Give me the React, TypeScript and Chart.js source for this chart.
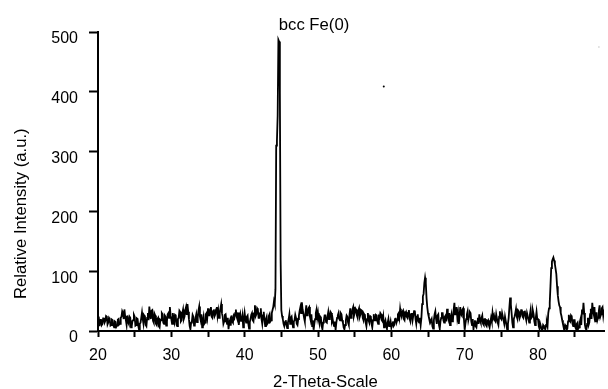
import React, { useEffect, useRef } from 'react';
import { Chart, registerables } from 'chart.js';

Chart.register(...registerables);

// XRD scan: start angle and step of the 2-theta sampling grid (degrees)
const SCAN_START = 20.0;
const SCAN_STEP = 0.1;

// Intensity (a.u.), one value per 0.1 deg step, 20.0 .. 89.0
const intensity: number[] = [
  // 20.0 - 21.9
  15, 24, 8, 18, 20, 10, 12, 21, 22, 14, 17, 25, 24, 11, 14, 22, 20, 9, 10, 19,
  // 22.0 - 23.9
  18, 9, 6, 16, 15, 7, 9, 19, 20, 11, 12, 22, 24, 33, 30, 20, 36, 25, 18, 10,
  // 24.0 - 25.9
  26, 15, 12, 24, 22, 6, 8, 17, 18, 27, 24, 9, 10, 21, 20, 8, 2, 12, 14, 22,
  // 26.0 - 27.9
  31, 20, 12, 26, 24, 10, 8, 22, 30, 18, 41, 28, 20, 34, 35, 17, 14, 29, 26, 12,
  // 28.0 - 29.9
  10, 20, 22, 8, 6, 19, 18, 30, 28, 14, 12, 26, 24, 9, 16, 28, 30, 22, 40, 26,
  // 30.0 - 31.9
  20, 12, 30, 19, 14, 27, 26, 11, 8, 20, 22, 34, 32, 16, 18, 30, 36, 20, 24, 35,
  // 32.0 - 33.9
  40, 27, 45, 32, 20, 8, 3, 14, 16, 27, 24, 9, 10, 22, 28, 15, 22, 34, 41, 24,
  // 34.0 - 35.9
  18, 28, 6, 16, 24, 12, 14, 28, 30, 22, 38, 26, 26, 35, 40, 24, 22, 33, 36, 25,
  // 36.0 - 37.9
  28, 36, 40, 25, 34, 22, 30, 38, 45, 30, 24, 12, 16, 27, 28, 18, 12, 22, 3, 14,
  // 38.0 - 39.9
  18, 9, 26, 16, 14, 25, 22, 30, 36, 24, 20, 31, 10, 22, 28, 17, 18, 26, 6, 18,
  // 40.0 - 41.9
  30, 20, 14, 24, 26, 12, 4, 15, 20, 27, 30, 18, 16, 30, 43, 25, 28, 38, 36, 22,
  // 42.0 - 43.9
  22, 30, 38, 20, 12, 26, 32, 18, 8, 20, 24, 12, 14, 25, 28, 16, 18, 30, 35, 40,
  // 44.0 - 45.9
  50, 45, 70, 310, 318, 360, 487, 484, 400, 120, 35, 25, 20, 12, 8, 15, 18, 10, 5, 14,
  // 46.0 - 47.9
  20, 28, 12, 22, 24, 14, 6, 16, 18, 27, 22, 12, 10, 20, 26, 34, 40, 30, 48, 36,
  // 48.0 - 49.9
  30, 22, 16, 30, 43, 26, 28, 38, 40, 24, 18, 28, 8, 18, 2, 12, 20, 30, 36, 22,
  // 50.0 - 51.9
  30, 18, 12, 24, 22, 8, 3, 14, 18, 26, 26, 15, 14, 25, 32, 20, 24, 32, 30, 16,
  // 52.0 - 53.9
  20, 12, 8, 16, 2, 14, 22, 26, 30, 20, 18, 30, 28, 18, 14, 6, 3, 10, 18, 26,
  // 54.0 - 55.9
  24, 14, 10, 28, 38, 22, 26, 36, 40, 25, 30, 38, 36, 26, 22, 34, 38, 24, 28, 35,
  // 56.0 - 57.9
  34, 22, 18, 28, 26, 14, 8, 20, 30, 18, 14, 25, 24, 12, 6, 18, 28, 20, 18, 27,
  // 58.0 - 59.9
  26, 16, 12, 24, 22, 30, 28, 18, 16, 24, 6, 14, 18, 10, 4, 14, 20, 8, 10, 16,
  // 60.0 - 61.9
  6, 12, 16, 8, 10, 20, 22, 14, 18, 28, 30, 22, 37, 28, 24, 32, 34, 20, 18, 30,
  // 62.0 - 63.9
  32, 24, 22, 30, 35, 20, 16, 28, 30, 18, 26, 33, 34, 20, 12, 24, 28, 16, 14, 22,
  // 64.0 - 65.9
  10, 22, 45, 58, 62, 80, 89, 80, 55, 40, 30, 24, 20, 14, 14, 20, 8, 4, 18, 28,
  // 66.0 - 67.9
  33, 20, 12, 26, 28, 10, 4, 16, 22, 30, 30, 18, 14, 24, 26, 16, 37, 26, 20, 30,
  // 68.0 - 69.9
  10, 22, 28, 16, 18, 36, 47, 28, 30, 40, 22, 30, 12, 24, 40, 28, 26, 36, 38, 20,
  // 70.0 - 71.9
  2, 12, 20, 28, 33, 18, 24, 32, 30, 16, 10, 20, 3, 12, 18, 8, 6, 16, 22, 12,
  // 72.0 - 73.9
  28, 18, 14, 22, 26, 12, 10, 20, 20, 10, 8, 16, 18, 10, 6, 14, 22, 16, 31, 22,
  // 74.0 - 75.9
  26, 18, 16, 28, 28, 14, 10, 24, 33, 22, 20, 30, 30, 18, 12, 24, 24, 10, 2, 12,
  // 76.0 - 77.9
  22, 40, 56, 44, 30, 14, 6, 20, 24, 30, 37, 24, 20, 34, 32, 22, 26, 35, 36, 24,
  // 78.0 - 79.9
  22, 32, 34, 24, 18, 30, 30, 20, 14, 28, 36, 22, 24, 34, 28, 16, 10, 22, 32, 20,
  // 80.0 - 81.9
  20, 8, 4, 12, 12, 3, 2, 10, 8, 4, 3, 10, 14, 8, 30, 38, 47, 75, 105, 116,
  // 82.0 - 83.9
  120, 123, 118, 112, 104, 95, 75, 60, 50, 43, 40, 30, 25, 18, 12, 8, 3, 10, 8, 2,
  // 84.0 - 85.9
  4, 16, 27, 18, 16, 26, 24, 12, 8, 18, 18, 6, 3, 12, 14, 4, 6, 15, 20, 10,
  // 86.0 - 87.9
  36, 28, 47, 30, 10, 4, 2, 12, 22, 10, 14, 28, 37, 20, 47, 34, 28, 40, 16, 30,
  // 88.0 - 89.0
  30, 18, 22, 34, 43, 24, 28, 38, 40, 26, 36,
];

// stray specks visible in the picture
const speckX: number[] = [58.97, 88.3];
const speckY: number[] = [409, 475];
const speckColor: string[] = ['#000000', '#dddddd'];

const X_MIN = 20;
const X_MAX = 89;
const Y_MIN = 0;
const Y_MAX = 500;
const X_TICK_STEP = 5;
const Y_TICK_STEP = 100;

const X_TITLE = '2-Theta-Scale';
const Y_TITLE = 'Relative Intensity (a.u.)';
const PEAK_LABEL = 'bcc Fe(0)';
const PEAK_LABEL_X = 44.65;

const FONT = "'Liberation Sans', Arial, Helvetica, sans-serif";

const textPlugin = {
  id: 'extraText',
  afterDraw(chart: any) {
    const ctx = chart.ctx as CanvasRenderingContext2D;
    const xs = chart.scales.x;
    ctx.save();
    ctx.fillStyle = '#000';
    ctx.font = `16.7px ${FONT}`;
    ctx.textBaseline = 'alphabetic';
    ctx.textAlign = 'left';
    // peak annotation
    ctx.fillText(PEAK_LABEL, xs.getPixelForValue(PEAK_LABEL_X), 30);
    // x title
    ctx.fillText(X_TITLE, 273, 386.5);
    // y title
    ctx.translate(26, 299);
    ctx.rotate(-Math.PI / 2);
    ctx.fillText(Y_TITLE, 0, 0);
    ctx.restore();
  },
};

export default function App() {
  const ref = useRef<HTMLCanvasElement>(null);

  useEffect(() => {
    const points = intensity.map((y, i) => ({
      x: Math.round((SCAN_START + i * SCAN_STEP) * 100) / 100,
      y,
    }));
    const specks = speckX.map((x, i) => ({ x, y: speckY[i] }));

    const chart = new Chart(ref.current as HTMLCanvasElement, {
      type: 'line',
      data: {
        datasets: [
          {
            data: points,
            borderColor: '#000',
            borderWidth: 1.8,
            pointRadius: 0,
            tension: 0,
            fill: false,
          },
          {
            data: specks,
            showLine: false,
            pointRadius: 1,
            pointBorderWidth: 0,
            pointBackgroundColor: speckColor,
            borderColor: speckColor,
          },
        ],
      },
      options: {
        responsive: false,
        animation: false,
        events: [],
        layout: { padding: { top: 32, left: 0, right: 0, bottom: 0 } },
        plugins: {
          legend: { display: false },
          tooltip: { enabled: false },
          title: { display: false },
        },
        scales: {
          x: {
            type: 'linear',
            min: X_MIN,
            max: X_MAX,
            afterFit: (s: any) => {
              s.height = 58;
            },
            border: { display: true, color: '#000', width: 2 },
            grid: {
              drawOnChartArea: false,
              drawTicks: true,
              tickLength: 6,
              tickColor: '#000',
              tickWidth: 2,
            },
            ticks: {
              stepSize: X_TICK_STEP,
              includeBounds: false,
              autoSkip: false,
              maxRotation: 0,
              color: '#000',
              padding: 9,
              font: { family: FONT, size: 16 },
              callback: (v: any) => (Number(v) % 10 === 0 ? String(v) : ''),
            },
          },
          y: {
            type: 'linear',
            min: Y_MIN,
            max: Y_MAX,
            afterFit: (s: any) => {
              s.width = 98;
            },
            border: { display: true, color: '#000', width: 2 },
            grid: {
              drawOnChartArea: false,
              drawTicks: true,
              tickLength: 9,
              tickColor: '#000',
              tickWidth: 2,
            },
            ticks: {
              stepSize: Y_TICK_STEP,
              color: '#000',
              padding: 11,
              labelOffset: 7,
              font: { family: FONT, size: 16 },
            },
          },
        },
      } as any,
      plugins: [textPlugin],
    });
    return () => chart.destroy();
  }, []);

  return (
    <div style={{ position: 'absolute', left: 0, top: 0, width: 608, height: 389, background: '#fff' }}>
      <canvas ref={ref} width={608} height={389} style={{ display: 'block' }} />
    </div>
  );
}
